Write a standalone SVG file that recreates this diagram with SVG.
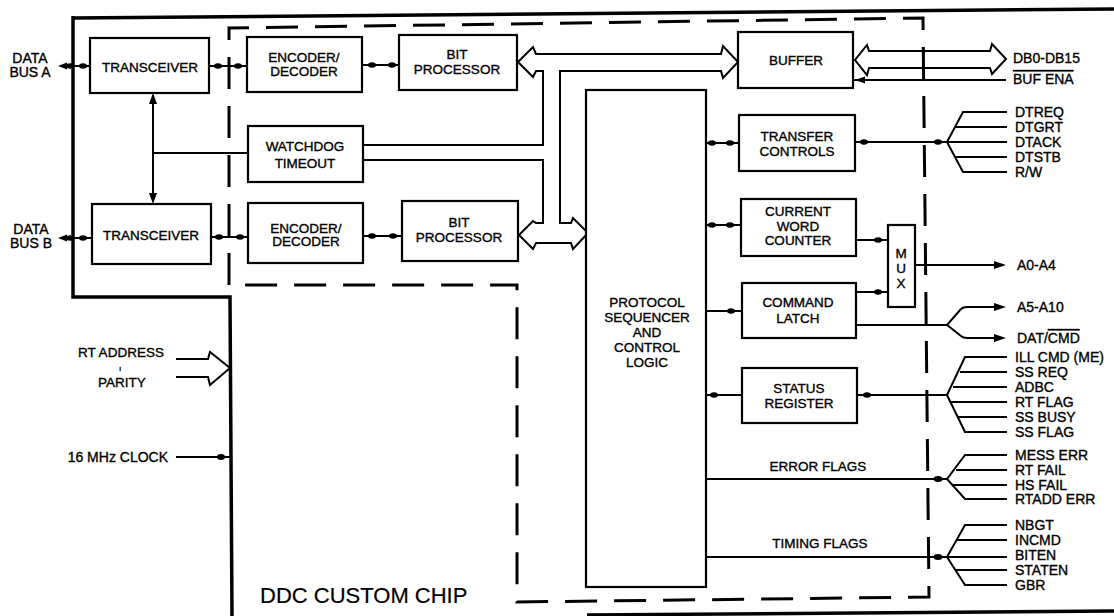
<svg xmlns="http://www.w3.org/2000/svg" width="1114" height="616" viewBox="0 0 1114 616">
<style>
text{font-family:"Liberation Sans",Arial,sans-serif;font-size:13.5px;fill:#000;stroke:#000;stroke-width:0.35}
.c{text-anchor:middle}
.r{font-size:14px}
.big{font-size:22px;stroke-width:0.2}
.box{fill:#fff;stroke:#000;stroke-width:2.2}
.ln{fill:none;stroke:#000;stroke-width:2}
.thick{fill:none;stroke:#000;stroke-width:3.5}
.dash{fill:none;stroke:#000;stroke-width:3;stroke-dasharray:32 17}
.dot{fill:#000}
</style>
<rect width="1114" height="616" fill="#fff"/>

<g id="frame">
  <path class="thick" d="M73,18 L1114,9"/>
  <path class="thick" d="M73,16 V297 H230 L232,616"/>
  <path class="thick" d="M587,615 L1114,611"/>
  <path class="dash" d="M229,285 V28 L923,18 L929,597 L517,602 V285 Z"/>
  <text class="big" x="260" y="603">DDC CUSTOM CHIP</text>
</g>

<g id="connectors">
  <!-- data bus A/B -->
  <path class="ln" d="M60,66 H90"/>
  <polygon class="dot" points="58,66 67,62.5 67,69.5"/>
  <ellipse class="dot" cx="70" cy="66" rx="4" ry="2.8"/>
  <ellipse class="dot" cx="83" cy="66" rx="4" ry="2.8"/>
  <path class="ln" d="M60,238 H92"/>
  <polygon class="dot" points="58,238 67,234.5 67,241.5"/>
  <ellipse class="dot" cx="70" cy="238" rx="4" ry="2.8"/>
  <ellipse class="dot" cx="83" cy="238" rx="4" ry="2.8"/>
  <!-- transceiver to encoder -->
  <path class="ln" d="M209,66 H247"/>
  <ellipse class="dot" cx="218" cy="66" rx="4" ry="2.8"/>
  <ellipse class="dot" cx="238" cy="66" rx="4" ry="2.8"/>
  <path class="ln" d="M211,237 H248"/>
  <ellipse class="dot" cx="219" cy="237" rx="4" ry="2.8"/>
  <ellipse class="dot" cx="240" cy="237" rx="4" ry="2.8"/>
  <!-- transceiver A-B link and watchdog -->
  <path class="ln" d="M153,100 V197" stroke-width="3"/>
  <polygon class="dot" points="153,93 149,104 157,104"/>
  <polygon class="dot" points="153,204 149,193 157,193"/>
  <path class="ln" d="M153,153 H248"/>
  <!-- encoder to bit processor -->
  <path class="ln" d="M362,65 H399"/>
  <ellipse class="dot" cx="372" cy="65" rx="4" ry="2.8"/>
  <ellipse class="dot" cx="392" cy="65" rx="4" ry="2.8"/>
  <path class="ln" d="M363,236 H402"/>
  <ellipse class="dot" cx="372" cy="236" rx="4" ry="2.8"/>
  <ellipse class="dot" cx="393" cy="236" rx="4" ry="2.8"/>
  <!-- internal bus -->
  <path class="ln" stroke-width="2.2" d="M363,145 H543 V71 H536 L533,77 L518,62 L533,47 L536,54 H721 L723,46 L738,62 L723,78 L721,71 H560 V223 H571 L573,218 L588,233 L573,249 L571,243 H536 L533,249 L519,235 L533,221 L536,223 H543 V160 H363"/>
  <!-- buffer external bus -->
  <path class="ln" stroke-width="2.2" d="M869,51 L867,45 L855,60 L867,75 L869,68 H990 L992,74 L1006,59 L992,44 L990,51 Z"/>
  <path class="ln" d="M853,80 H1006"/>
  <polygon class="dot" points="855,80 865,76.5 865,83.5"/>
  <!-- transfer controls -->
  <path class="ln" d="M706,143 H739"/>
  <ellipse class="dot" cx="712" cy="143" rx="4" ry="2.8"/>
  <ellipse class="dot" cx="730" cy="143" rx="4" ry="2.8"/>
  <path class="ln" d="M855,142 H1007 M947,142 L963,112 H1007 M955,127 H1007 M947,142 L963,172 H1007 M955,157 H1007"/>
  <ellipse class="dot" cx="864" cy="142" rx="4" ry="2.8"/>
  <ellipse class="dot" cx="938" cy="142" rx="4" ry="2.8"/>
  <!-- current word counter -->
  <path class="ln" d="M706,225 H741"/>
  <ellipse class="dot" cx="712" cy="225" rx="4" ry="2.8"/>
  <ellipse class="dot" cx="730" cy="225" rx="4" ry="2.8"/>
  <path class="ln" d="M856,240 H887"/>
  <ellipse class="dot" cx="878" cy="240" rx="4" ry="2.8"/>
  <!-- command latch -->
  <path class="ln" d="M706,311 H742"/>
  <ellipse class="dot" cx="731" cy="311" rx="4" ry="2.8"/>
  <path class="ln" d="M856,292 H887"/>
  <ellipse class="dot" cx="878" cy="292" rx="4" ry="2.8"/>
  <path class="ln" d="M856,325 H947 L961,309 Q963,307 967,307 H998 M947,325 L961,336 Q963,338 967,338 H998"/>
  <polygon class="dot" points="1006,307 994,303 994,311"/>
  <polygon class="dot" points="1006,338 994,334 994,342"/>
  <!-- mux output -->
  <path class="ln" d="M915,265 H998"/>
  <polygon class="dot" points="1006,265 994,261 994,269"/>
  <!-- status register -->
  <path class="ln" d="M706,395 H742"/>
  <ellipse class="dot" cx="714" cy="395" rx="4" ry="2.8"/>
  <path class="ln" d="M857,395 H947 L965,357 H1007 M960,372 H1007 M953,387 H1007 M947,395 L965,432 H1007 M951,402 H1007 M958,417 H1007"/>
  <ellipse class="dot" cx="867" cy="395" rx="4" ry="2.8"/>
  <!-- error flags -->
  <path class="ln" d="M706,479 H947 L965,455 H1007 M956,470 H1007 M947,479 L965,499 H1007 M952,485 H1007"/>
  <ellipse class="dot" cx="938" cy="479" rx="4.5" ry="3"/>
  <!-- timing flags -->
  <path class="ln" d="M706,557 H1007 M947,557 L965,525 H1007 M956,540 H1007 M947,557 L965,585 H1007 M956,570 H1007"/>
  <ellipse class="dot" cx="938" cy="557" rx="4.5" ry="3"/>
  <!-- RT address -->
  <path class="ln" stroke-width="2.2" d="M176,359 H208 L210,352 L230,368 L210,385 L208,377 H176"/>
  <!-- clock -->
  <path class="ln" d="M176,457 H230"/>
  <ellipse class="dot" cx="221" cy="457" rx="4" ry="3"/>
</g>

<g id="transceiver-a"><rect class="box" x="90" y="38" width="119" height="55"/><text class="c" x="150" y="72">TRANSCEIVER</text></g>
<g id="transceiver-b"><rect class="box" x="92" y="204" width="119" height="60"/><text class="c" x="151" y="240">TRANSCEIVER</text></g>
<g id="encoder-a"><rect class="box" x="247" y="37" width="115" height="55"/><text class="c" x="304" y="62">ENCODER/</text><text class="c" x="304" y="76">DECODER</text></g>
<g id="watchdog"><rect class="box" x="248" y="126" width="115" height="56"/><text class="c" x="305" y="151">WATCHDOG</text><text class="c" x="305" y="168">TIMEOUT</text></g>
<g id="encoder-b"><rect class="box" x="248" y="203" width="115" height="60"/><text class="c" x="306" y="233">ENCODER/</text><text class="c" x="306" y="246">DECODER</text></g>
<g id="bitproc-a"><rect class="box" x="399" y="35" width="118" height="55"/><text class="c" x="457" y="59">BIT</text><text class="c" x="457" y="74">PROCESSOR</text></g>
<g id="bitproc-b"><rect class="box" x="402" y="201" width="116" height="60"/><text class="c" x="459" y="227">BIT</text><text class="c" x="459" y="242">PROCESSOR</text></g>
<g id="protocol"><rect class="box" x="586" y="90" width="120" height="497"/>
  <text class="c" x="647" y="307">PROTOCOL</text><text class="c" x="647" y="322">SEQUENCER</text><text class="c" x="647" y="337">AND</text><text class="c" x="647" y="352">CONTROL</text><text class="c" x="647" y="367">LOGIC</text></g>
<g id="buffer"><rect class="box" x="738" y="32" width="115" height="56"/><text class="c" x="796" y="65">BUFFER</text></g>
<g id="transfer"><rect class="box" x="739" y="115" width="116" height="56"/><text class="c" x="797" y="141">TRANSFER</text><text class="c" x="797" y="156">CONTROLS</text></g>
<g id="counter"><rect class="box" x="741" y="199" width="115" height="57"/><text class="c" x="798" y="216">CURRENT</text><text class="c" x="798" y="231">WORD</text><text class="c" x="798" y="245">COUNTER</text></g>
<g id="mux"><rect class="box" x="888" y="225" width="27" height="82"/><text class="c" x="901" y="258">M</text><text class="c" x="901" y="273">U</text><text class="c" x="901" y="288">X</text></g>
<g id="latch"><rect class="box" x="742" y="283" width="114" height="55"/><text class="c" x="798" y="307">COMMAND</text><text class="c" x="798" y="323">LATCH</text></g>
<g id="status"><rect class="box" x="742" y="368" width="115" height="55"/><text class="c" x="799" y="393">STATUS</text><text class="c" x="799" y="408">REGISTER</text></g>

<g id="labels">
  <text class="c r" x="30" y="63">DATA</text><text class="c r" x="30" y="77">BUS A</text>
  <text class="c r" x="31" y="234">DATA</text><text class="c r" x="31" y="248">BUS B</text>
  <text class="c" x="121" y="357">RT ADDRESS</text>
  <text class="c" x="120" y="371" style="font-size:8px">ı</text>
  <text class="c" x="122" y="387">PARITY</text>
  <text class="r" x="168" y="462" text-anchor="end">16 MHz CLOCK</text>
  <text class="c" x="818" y="471">ERROR FLAGS</text>
  <text class="c" x="820" y="548">TIMING FLAGS</text>
  <text class="r" x="1013" y="63">DB0-DB15</text>
  <text class="r" x="1013" y="84" style="text-decoration:overline">BUF ENA</text>
  <text class="r" x="1015" y="117">DTREQ</text>
  <text class="r" x="1015" y="132">DTGRT</text>
  <text class="r" x="1015" y="147">DTACK</text>
  <text class="r" x="1015" y="162">DTSTB</text>
  <text class="r" x="1015" y="177">R/W</text>
  <text class="r" x="1017" y="270">A0-A4</text>
  <text class="r" x="1017" y="312">A5-A10</text>
  <text class="r" x="1017" y="343">DAT/<tspan style="text-decoration:overline">CMD</tspan></text>
  <text class="r" x="1015" y="362">ILL CMD (ME)</text>
  <text class="r" x="1015" y="377">SS REQ</text>
  <text class="r" x="1015" y="392">ADBC</text>
  <text class="r" x="1015" y="407">RT FLAG</text>
  <text class="r" x="1015" y="422">SS BUSY</text>
  <text class="r" x="1015" y="437">SS FLAG</text>
  <text class="r" x="1015" y="460">MESS ERR</text>
  <text class="r" x="1015" y="475">RT FAIL</text>
  <text class="r" x="1015" y="490">HS FAIL</text>
  <text class="r" x="1015" y="504">RTADD ERR</text>
  <text class="r" x="1015" y="530">NBGT</text>
  <text class="r" x="1015" y="545">INCMD</text>
  <text class="r" x="1015" y="560">BITEN</text>
  <text class="r" x="1015" y="575">STATEN</text>
  <text class="r" x="1015" y="590">GBR</text>
</g>
</svg>
